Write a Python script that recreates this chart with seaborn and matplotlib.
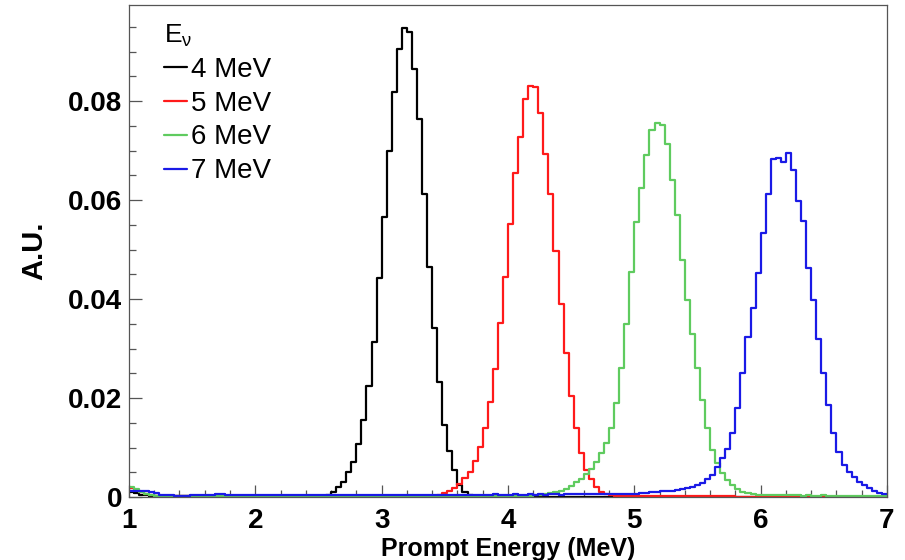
import numpy as np
import pandas as pd
import matplotlib
matplotlib.use('Agg')
import matplotlib.pyplot as plt
from matplotlib.lines import Line2D
from matplotlib.ticker import MultipleLocator, FuncFormatter
import seaborn as sns

# 150 bins of 0.04 MeV from 1 to 7 MeV
bin_edges = np.linspace(1.0, 7.0, 151)

e_nu_labels = ['4 MeV', '5 MeV', '6 MeV', '7 MeV']
line_colors = ['#000000', '#ff1a1a', '#5fcb5f', '#1a1ae6']

black_4mev = [
    0.0010, 0.0008, 0.0005, 0.0004, 0.0003, 0.0002, 0.0002, 0.0002, 0.0002, 0.0002,
    0.0002, 0.0002, 0.0002, 0.0002, 0.0002, 0.0002, 0.0002, 0.0002, 0.0002, 0.0002,
    0.0002, 0.0002, 0.0002, 0.0002, 0.0002, 0.0002, 0.0002, 0.0002, 0.0002, 0.0002,
    0.0002, 0.0002, 0.0002, 0.0002, 0.0002, 0.0002, 0.0002, 0.0001, 0.0002, 0.0004,
    0.0011, 0.0021, 0.0031, 0.0051, 0.0071, 0.0108, 0.0156, 0.0224, 0.0314, 0.0442,
    0.0566, 0.0700, 0.0819, 0.0906, 0.0947, 0.0940, 0.0865, 0.0763, 0.0613, 0.0465,
    0.0341, 0.0233, 0.0145, 0.0092, 0.0055, 0.0024, 0.0011, 0.0005, 0.0002, 0.0001,
    0.0001, 0.0001, 0.0001, 0.0001, 0.0001, 0.0001, 0.0001, 0.0001, 0.0001, 0.0001,
    0.0001, 0.0001, 0.0001, 0.0001, 0.0001, 0.0001, 0.0001, 0.0001, 0.0001, 0.0001,
    0.0001, 0.0001, 0.0001, 0.0001, 0.0001, 0.0001, 0.0001, 0.0001, 0.0001, 0.0001,
    0.0001, 0.0001, 0.0001, 0.0001, 0.0001, 0.0001, 0.0001, 0.0001, 0.0001, 0.0001,
    0.0001, 0.0001, 0.0001, 0.0001, 0.0001, 0.0001, 0.0001, 0.0001, 0.0001, 0.0001,
    0.0001, 0.0001, 0.0001, 0.0001, 0.0001, 0.0001, 0.0001, 0.0001, 0.0001, 0.0001,
    0.0001, 0.0001, 0.0001, 0.0001, 0.0001, 0.0001, 0.0001, 0.0001, 0.0001, 0.0001,
    0.0001, 0.0001, 0.0001, 0.0001, 0.0001, 0.0001, 0.0001, 0.0001, 0.0001, 0.0001,
]

red_5mev = [
    0.0018, 0.0015, 0.0010, 0.0006, 0.0004, 0.0003, 0.0003, 0.0002, 0.0003, 0.0002,
    0.0002, 0.0003, 0.0002, 0.0002, 0.0003, 0.0002, 0.0002, 0.0003, 0.0002, 0.0002,
    0.0002, 0.0003, 0.0002, 0.0002, 0.0002, 0.0003, 0.0002, 0.0002, 0.0003, 0.0002,
    0.0002, 0.0002, 0.0003, 0.0002, 0.0002, 0.0003, 0.0002, 0.0002, 0.0002, 0.0003,
    0.0002, 0.0002, 0.0003, 0.0002, 0.0002, 0.0002, 0.0003, 0.0002, 0.0002, 0.0003,
    0.0002, 0.0002, 0.0003, 0.0002, 0.0003, 0.0003, 0.0002, 0.0003, 0.0003, 0.0002,
    0.0003, 0.0005, 0.0008, 0.0012, 0.0018, 0.0026, 0.0038, 0.0051, 0.0073, 0.0101,
    0.0140, 0.0192, 0.0258, 0.0352, 0.0445, 0.0551, 0.0654, 0.0728, 0.0805, 0.0831,
    0.0829, 0.0775, 0.0693, 0.0612, 0.0497, 0.0390, 0.0290, 0.0205, 0.0140, 0.0089,
    0.0055, 0.0036, 0.0021, 0.0011, 0.0007, 0.0004, 0.0003, 0.0002, 0.0002, 0.0002,
    0.0002, 0.0002, 0.0002, 0.0002, 0.0002, 0.0002, 0.0002, 0.0002, 0.0002, 0.0002,
    0.0002, 0.0002, 0.0002, 0.0002, 0.0002, 0.0002, 0.0002, 0.0002, 0.0002, 0.0002,
    0.0001, 0.0001, 0.0001, 0.0001, 0.0001, 0.0001, 0.0001, 0.0001, 0.0001, 0.0001,
    0.0001, 0.0001, 0.0001, 0.0001, 0.0001, 0.0001, 0.0001, 0.0001, 0.0001, 0.0001,
    0.0001, 0.0001, 0.0001, 0.0001, 0.0001, 0.0001, 0.0001, 0.0001, 0.0001, 0.0001,
]

green_6mev = [
    0.0020, 0.0016, 0.0011, 0.0006, 0.0004, 0.0003, 0.0002, 0.0003, 0.0002, 0.0002,
    0.0002, 0.0002, 0.0002, 0.0003, 0.0002, 0.0002, 0.0002, 0.0002, 0.0002, 0.0002,
    0.0002, 0.0002, 0.0002, 0.0002, 0.0002, 0.0002, 0.0003, 0.0002, 0.0002, 0.0002,
    0.0002, 0.0002, 0.0002, 0.0002, 0.0002, 0.0002, 0.0002, 0.0002, 0.0002, 0.0002,
    0.0002, 0.0002, 0.0002, 0.0002, 0.0002, 0.0002, 0.0002, 0.0002, 0.0002, 0.0002,
    0.0002, 0.0002, 0.0002, 0.0002, 0.0002, 0.0002, 0.0002, 0.0002, 0.0002, 0.0002,
    0.0002, 0.0002, 0.0002, 0.0002, 0.0002, 0.0002, 0.0002, 0.0002, 0.0002, 0.0002,
    0.0002, 0.0002, 0.0002, 0.0002, 0.0003, 0.0002, 0.0003, 0.0003, 0.0003, 0.0003,
    0.0004, 0.0005, 0.0006, 0.0008, 0.0010, 0.0013, 0.0017, 0.0023, 0.0030, 0.0037,
    0.0046, 0.0057, 0.0070, 0.0089, 0.0110, 0.0140, 0.0190, 0.0260, 0.0350, 0.0455,
    0.0556, 0.0624, 0.0691, 0.0741, 0.0755, 0.0751, 0.0714, 0.0640, 0.0570, 0.0479,
    0.0398, 0.0330, 0.0260, 0.0195, 0.0140, 0.0095, 0.0068, 0.0048, 0.0034, 0.0024,
    0.0016, 0.0011, 0.0008, 0.0006, 0.0005, 0.0005, 0.0004, 0.0004, 0.0004, 0.0004,
    0.0004, 0.0004, 0.0004, 0.0003, 0.0004, 0.0003, 0.0003, 0.0004, 0.0003, 0.0003,
    0.0003, 0.0003, 0.0003, 0.0003, 0.0003, 0.0003, 0.0002, 0.0003, 0.0002, 0.0002,
]

blue_7mev = [
    0.0013, 0.0013, 0.0012, 0.0012, 0.0011, 0.0008, 0.0005, 0.0004, 0.0004, 0.0003,
    0.0002, 0.0003, 0.0004, 0.0004, 0.0005, 0.0005, 0.0004, 0.0006, 0.0006, 0.0005,
    0.0004, 0.0004, 0.0005, 0.0004, 0.0004, 0.0005, 0.0004, 0.0004, 0.0004, 0.0005,
    0.0004, 0.0004, 0.0005, 0.0004, 0.0004, 0.0004, 0.0005, 0.0004, 0.0004, 0.0004,
    0.0005, 0.0004, 0.0004, 0.0005, 0.0004, 0.0004, 0.0004, 0.0005, 0.0005, 0.0004,
    0.0004, 0.0005, 0.0004, 0.0005, 0.0004, 0.0004, 0.0005, 0.0004, 0.0005, 0.0005,
    0.0004, 0.0005, 0.0005, 0.0004, 0.0005, 0.0005, 0.0005, 0.0004, 0.0005, 0.0005,
    0.0005, 0.0005, 0.0006, 0.0005, 0.0005, 0.0005, 0.0006, 0.0005, 0.0005, 0.0006,
    0.0005, 0.0006, 0.0005, 0.0006, 0.0006, 0.0005, 0.0006, 0.0006, 0.0006, 0.0006,
    0.0006, 0.0006, 0.0006, 0.0006, 0.0007, 0.0006, 0.0006, 0.0007, 0.0006, 0.0007,
    0.0007, 0.0008, 0.0009, 0.0010, 0.0011, 0.0012, 0.0013, 0.0013, 0.0014, 0.0016,
    0.0018, 0.0021, 0.0025, 0.0029, 0.0036, 0.0044, 0.0060, 0.0078, 0.0097, 0.0130,
    0.0180, 0.0250, 0.0324, 0.0382, 0.0453, 0.0534, 0.0613, 0.0682, 0.0684, 0.0677,
    0.0695, 0.0661, 0.0597, 0.0558, 0.0462, 0.0399, 0.0320, 0.0250, 0.0185, 0.0130,
    0.0090, 0.0065, 0.0051, 0.0041, 0.0031, 0.0024, 0.0018, 0.0013, 0.0009, 0.0006,
]

bin_centers = 0.5 * (bin_edges[:-1] + bin_edges[1:])
rows = []
for lab, vals in zip(e_nu_labels, [black_4mev, red_5mev, green_6mev, blue_7mev]):
    rows.append(pd.DataFrame({'energy': bin_centers, 'au': vals, 'e_nu': lab}))
df = pd.concat(rows, ignore_index=True)

sns.set_style('ticks')
plt.rcParams['font.family'] = ['Liberation Sans', 'DejaVu Sans']
plt.rcParams['mathtext.fontset'] = 'custom'
plt.rcParams['mathtext.rm'] = 'Liberation Sans'
plt.rcParams['mathtext.it'] = 'Liberation Sans:italic'
for key in ['text.color', 'axes.labelcolor', 'xtick.labelcolor', 'ytick.labelcolor']:
    plt.rcParams[key] = 'black'

fig = plt.figure(figsize=(9.05, 5.6), dpi=100)
ax = fig.add_axes([0.1425, 0.1125, 0.8376, 0.8786])

# seaborn compares bins to "auto", so pass a plain list
edge_list = [float(e) for e in bin_edges]
for lab, col in zip(e_nu_labels, line_colors):
    d = df[df['e_nu'] == lab]
    sns.histplot(data=d, x='energy', weights='au', bins=edge_list, element='step',
                 fill=False, color=col, linewidth=1.6, ax=ax)

ax.set_xlim(1, 7)
ax.set_ylim(0, 0.0994)
ax.xaxis.set_major_locator(MultipleLocator(1))
ax.xaxis.set_minor_locator(MultipleLocator(0.2))
ax.yaxis.set_major_locator(MultipleLocator(0.02))
ax.yaxis.set_minor_locator(MultipleLocator(0.005))
ax.yaxis.set_major_formatter(FuncFormatter(lambda v, p: '0' if abs(v) < 1e-9 else f'{v:.2f}'))

ax.tick_params(which='both', direction='in', top=False, right=False, color='#555555', width=0.9)
ax.tick_params(which='major', length=9, labelsize=20, labelcolor='black')
ax.tick_params(axis='x', which='major', pad=8)
ax.tick_params(axis='y', which='major', pad=5)
ax.tick_params(which='minor', length=5)
for lbl in ax.get_xticklabels() + ax.get_yticklabels():
    lbl.set_fontweight('bold')
for sp in ax.spines.values():
    sp.set_color('#555555')
    sp.set_linewidth(0.9)

ax.set_xlabel('Prompt Energy (MeV)', fontsize=18, fontweight='bold', labelpad=2, color='black')
ax.set_ylabel('A.U.', fontsize=21, fontweight='bold', labelpad=14, color='black')

handles = [Line2D([0], [0], color=c, lw=1.6) for c in line_colors]
leg = ax.legend(handles, e_nu_labels, title='E$_{\\mathrm{\\nu}}$', loc='upper left',
                bbox_to_anchor=(0.02, 1.003), frameon=False, fontsize=20,
                title_fontsize=19, handlelength=0.85, handletextpad=0.15,
                labelspacing=0.28, borderaxespad=0.3, alignment='left')
for t in leg.get_texts():
    t.set_color('black')
leg.get_title().set_color('black')

fig.savefig('out.png', dpi=100)
